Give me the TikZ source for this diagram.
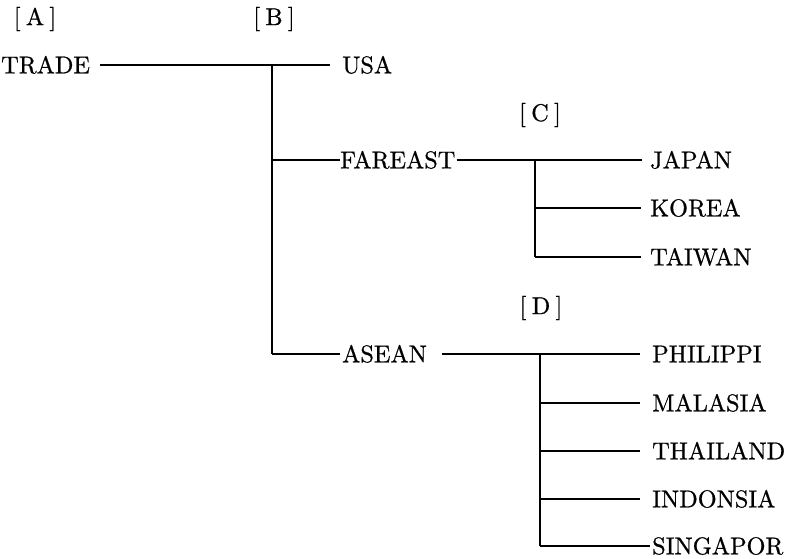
\documentclass[tikz,border=0pt]{standalone}
\usepackage{fontspec}
\setmainfont{lmroman10-regular.otf}[FakeBold=0.7]
\begin{document}
\begin{tikzpicture}[x=1pt,y=-1pt,
  lbl/.style={inner sep=0pt, anchor=west, font=\fontsize{24.3}{24.3}\selectfont, text height=16.6pt, text depth=0pt},
  tag/.style={inner sep=0pt, anchor=center, font=\fontsize{24.3}{24.3}\selectfont},
  conn/.style={line width=1.2pt, black}]
\useasboundingbox (0,0) rectangle (786,558);
% level tags
\node[tag] (tA) at (35,19) {[\kern0.22em A\kern0.22em]};
\node[tag] (tB) at (274,19) {[\kern0.22em B\kern0.22em]};
\node[tag] (tC) at (540,115) {[\kern0.22em C\kern0.22em]};
\node[tag] (tD) at (541,308) {[\kern0.22em D\kern0.22em]};
% nodes
\node[lbl] (trade) at (1,65) {TRADE};
\node[lbl] (usa) at (342,65) {USA};
\node[lbl] (fareast) at (340,160) {FAREAST};
\node[lbl] (asean) at (342,354) {ASEAN};
\node[lbl] (japan) at (650,160) {JAPAN};
\node[lbl] (korea) at (650,208) {KOREA};
\node[lbl] (taiwan) at (650,257) {TAIWAN};
\node[lbl] (philippi) at (652,354) {PHILIPPI};
\node[lbl] (malasia) at (652,403) {MALASIA};
\node[lbl] (thailand) at (652,451) {THAILAND};
\node[lbl] (indonsia) at (652,499) {INDONSIA};
\node[lbl] (singapor) at (652,546) {SINGAPOR};
% junctions
\coordinate (jB) at (272,65);
\coordinate (jC) at (535,160);
\coordinate (jD) at (540,354);
% connectors
\draw[conn, shorten <=10pt, shorten >=12pt] (trade.east) -- (usa.west);
\draw[conn] (jB) -- (jB |- asean.west);
\draw[conn] (jB |- fareast.west) -- (fareast.west);
\draw[conn, shorten >=2pt] (jB |- asean.west) -- (asean.west);
\draw[conn, shorten <=1pt, shorten >=8pt] (fareast.east) -- (japan.west);
\draw[conn] (jC) -- (jC |- taiwan.west);
\draw[conn, shorten >=9pt] (jC |- korea.west) -- (korea.west);
\draw[conn, shorten >=9pt] (jC |- taiwan.west) -- (taiwan.west);
\draw[conn, shorten <=15pt, shorten >=12pt] (asean.east) -- (philippi.west);
\draw[conn] (jD) -- (jD |- singapor.west);
\draw[conn, shorten >=12pt] (jD |- malasia.west) -- (malasia.west);
\draw[conn, shorten >=12pt] (jD |- thailand.west) -- (thailand.west);
\draw[conn, shorten >=12pt] (jD |- indonsia.west) -- (indonsia.west);
\draw[conn, shorten >=2pt] (jD |- singapor.west) -- (singapor.west);
\end{tikzpicture}
\end{document}
